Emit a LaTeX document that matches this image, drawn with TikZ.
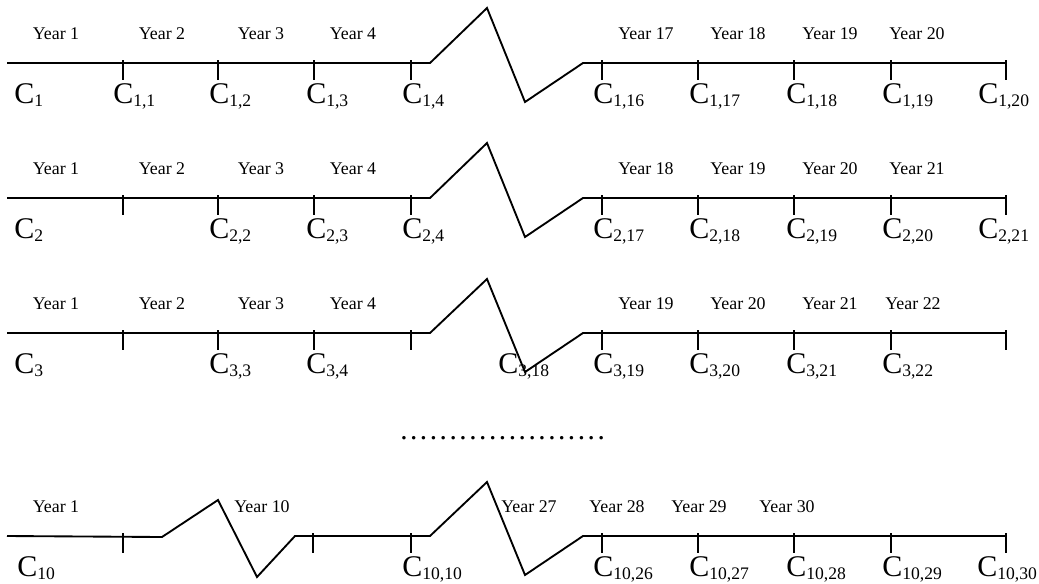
\documentclass[tikz,border=0pt]{standalone}
\usepackage{fontspec}
\setmainfont{Liberation Serif}
\newcommand{\clab}[1]{C\raisebox{-2.4pt}{\fontsize{13.2}{14}\selectfont #1}}
\newcommand{\pd}{.\kern1.9pt}

\begin{document}
\begin{tikzpicture}[x=0.75pt, y=-0.75pt,
            yr/.style={font=\fontsize{13.4}{15}\selectfont, anchor=base, inner sep=0pt},
            cl/.style={font=\fontsize{22.5}{25}\selectfont, anchor=base west, inner sep=0pt},
            ax/.style={draw=black, line width=1.4pt},
            tk/.style={draw=black, line width=1.2pt}]
            \useasboundingbox (0,0) rectangle (1039,583);
            % row 1
            \draw[ax] (7,63) -- (430,63) -- (487,8) -- (525,102) -- (583,63) -- (1006,63);
            \foreach \x in {123,218,314,411,602,698,794,891,1006} { \draw[tk] (\x,60) -- (\x,80); }
            \foreach \x/\t [count=\i] in {56/1,162/2,261/3,353/4,646/17,738/18,830/19,917/20}
                { \node[yr] (ya\i) at (\x,39) {Year \t}; }
            \foreach \x/\s [count=\i] in {14/1,113/{1,1},209/{1,2},306/{1,3},402/{1,4},593/{1,16},689/{1,17},786/{1,18},882/{1,19},978/{1,20}}
                { \node[cl] (ca\i) at (\x,103) {\clab{\s}}; }
            % row 2
            \draw[ax] (7,198) -- (430,198) -- (487,143) -- (525,237) -- (583,198) -- (1006,198);
            \foreach \x in {123,218,314,411,602,698,794,891,1006} { \draw[tk] (\x,195) -- (\x,215); }
            \foreach \x/\t [count=\i] in {56/1,162/2,261/3,353/4,646/18,738/19,830/20,917/21}
                { \node[yr] (yb\i) at (\x,174) {Year \t}; }
            \foreach \x/\s [count=\i] in {14/2,209/{2,2},306/{2,3},402/{2,4},593/{2,17},689/{2,18},786/{2,19},882/{2,20},978/{2,21}}
                { \node[cl] (cb\i) at (\x,238) {\clab{\s}}; }
            % row 3
            \draw[ax] (7,333) -- (430,333) -- (487,279) -- (525,372) -- (583,333) -- (1006,333);
            \foreach \x in {123,218,314,411,602,698,794,891,1006} { \draw[tk] (\x,330) -- (\x,350); }
            \foreach \x/\t [count=\i] in {56/1,162/2,261/3,353/4,646/19,738/20,830/21,913/22}
                { \node[yr] (yc\i) at (\x,309) {Year \t}; }
            \foreach \x/\s [count=\i] in {14/3,209/{3,3},306/{3,4},498/{3,18},593/{3,19},689/{3,20},786/{3,21},882/{3,22}}
                { \node[cl] (cc\i) at (\x,373) {\clab{\s}}; }
            % dots
            \node[font=\fontsize{22}{24}\selectfont, anchor=base west, inner sep=0pt] (dots) at (400,439.5)
                {\pd\pd\pd\pd\pd\pd\pd\pd\pd\pd\pd\pd\pd\pd\pd\pd\pd\pd\pd\pd.};
            % row 10
            \draw[ax] (7,536) -- (162,537) -- (218,500) -- (257,577) -- (295,536) -- (430,536)
                -- (487,482) -- (525,575) -- (583,536) -- (1006,536);
            \foreach \x in {123,313,411,602,698,794,891,1006} { \draw[tk] (\x,533) -- (\x,553); }
            \foreach \x/\t [count=\i] in {56/1,262/10,529/27,617/28,699/29,787/30}
                { \node[yr] (yd\i) at (\x,512) {Year \t}; }
            \foreach \x/\s [count=\i] in {17/10,402/{10,10},593/{10,26},689/{10,27},786/{10,28},882/{10,29},977/{10,30}}
                { \node[cl] (cd\i) at (\x,576) {\clab{\s}}; }
        \end{tikzpicture}
\end{document}
